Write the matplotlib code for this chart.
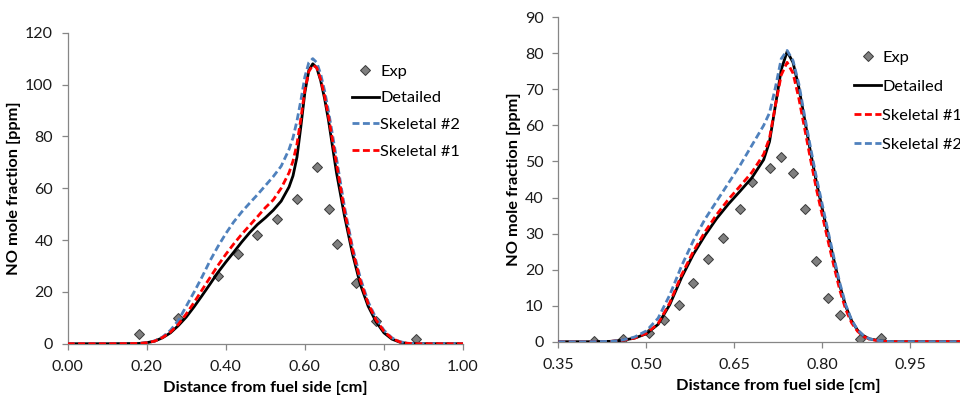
import matplotlib
matplotlib.use('Agg')
import matplotlib.pyplot as plt
import numpy as np

plt.rcParams['font.family'] = ['Lato', 'DejaVu Sans']

# ---------------- left panel data ----------------
exp_x_a = [0.18, 0.28, 0.38, 0.43, 0.48, 0.53, 0.58, 0.63, 0.66, 0.68, 0.73, 0.78, 0.88]
exp_y_a = [3.9, 9.8, 26.1, 34.6, 41.9, 48.2, 55.7, 68.3, 51.8, 38.3, 23.4, 8.9, 1.8]

x_a = [0.00, 0.10, 0.18, 0.20, 0.22, 0.24, 0.26, 0.28, 0.30, 0.32, 0.34, 0.36, 0.38,
       0.40, 0.42, 0.44, 0.46, 0.48, 0.50, 0.52, 0.54, 0.56, 0.57, 0.58, 0.59, 0.60,
       0.61, 0.62, 0.63, 0.64, 0.65, 0.66, 0.68, 0.70, 0.72, 0.74, 0.76, 0.78, 0.80,
       0.82, 0.84, 0.86, 0.88, 0.90, 1.00]
detailed_a = [0, 0, 0.1, 0.4, 1.0, 2.3, 4.2, 7.0, 10.3, 14.3, 18.6, 23.0, 27.5,
              31.5, 35.3, 39.2, 42.8, 46.0, 48.6, 51.5, 55.0, 60.5, 64.8, 72.0, 84.0, 97.0,
              105.5, 108.0, 106.5, 101.5, 94.5, 86.0, 66.0, 49.5, 35.0, 23.0, 14.5, 8.5, 4.2,
              1.8, 0.6, 0.1, 0, 0, 0]
skel1_a = [0, 0, 0.1, 0.4, 1.0, 2.4, 4.5, 7.5, 11.5, 16.0, 20.8, 25.5, 30.2,
           34.5, 38.5, 42.2, 45.6, 49.0, 52.5, 55.5, 60.0, 66.0, 70.5, 77.0, 87.0, 98.0,
           105.0, 107.5, 106.5, 102.0, 95.5, 87.5, 69.5, 51.5, 36.5, 24.5, 15.5, 9.2, 4.8,
           2.1, 0.7, 0.15, 0, 0, 0]
skel2_a = [0, 0, 0.1, 0.4, 1.1, 2.6, 5.2, 9.0, 14.5, 20.0, 25.8, 32.0, 37.5,
           42.5, 47.0, 50.8, 54.2, 57.5, 61.0, 64.5, 68.5, 75.0, 79.5, 86.0, 94.0, 103.0,
           108.5, 110.0, 108.5, 104.0, 97.5, 89.5, 71.5, 53.0, 37.5, 25.5, 16.2, 9.8, 5.2,
           2.3, 0.8, 0.2, 0, 0, 0]

# ---------------- right panel data ----------------
exp_x_b = [0.41, 0.46, 0.505, 0.53, 0.555, 0.58, 0.605, 0.63, 0.66, 0.68, 0.71, 0.73,
           0.75, 0.77, 0.79, 0.81, 0.83, 0.865, 0.90]
exp_y_b = [0.3, 0.7, 2.5, 6.0, 10.1, 16.3, 23.0, 28.8, 36.9, 44.2, 48.2, 51.2,
           46.8, 36.7, 22.3, 12.0, 7.3, 0.8, 1.0]

x_b = [0.35, 0.40, 0.44, 0.46, 0.48, 0.50, 0.52, 0.54, 0.56, 0.58, 0.60, 0.62, 0.64,
       0.66, 0.68, 0.70, 0.71, 0.72, 0.73, 0.74, 0.75, 0.76, 0.77, 0.78, 0.79, 0.80,
       0.81, 0.82, 0.83, 0.84, 0.85, 0.86, 0.87, 0.88, 0.90, 0.92, 1.10]
detailed_b = [0, 0, 0.1, 0.4, 1.0, 2.2, 4.8, 10.3, 17.8, 24.2, 29.5, 34.2, 38.2,
              41.8, 45.5, 50.5, 55.5, 65.5, 75.5, 80.5, 77.5, 70.5, 61.5, 52.5, 44.2, 36.8,
              29.5, 22.5, 15.5, 9.8, 5.8, 3.2, 1.7, 0.8, 0.2, 0, 0]
skel1_b = [0, 0, 0.1, 0.4, 1.0, 2.3, 5.0, 10.8, 18.5, 25.0, 30.5, 35.3, 39.5,
           43.2, 47.0, 52.0, 56.5, 65.5, 74.0, 77.5, 74.5, 67.5, 59.0, 50.5, 42.3, 35.0,
           27.8, 20.8, 14.2, 8.9, 5.2, 2.9, 1.5, 0.7, 0.15, 0, 0]
skel2_b = [0, 0, 0.1, 0.5, 1.3, 3.0, 6.5, 13.0, 21.0, 28.0, 34.0, 39.0, 44.0,
           49.0, 54.5, 60.0, 63.5, 70.5, 78.5, 80.8, 78.0, 71.5, 62.5, 53.8, 45.5, 38.0,
           30.5, 23.2, 16.2, 10.2, 6.0, 3.3, 1.7, 0.8, 0.2, 0, 0]

###################################
fig = plt.figure(figsize=(9.6, 3.96), dpi=100)
tick_fs = 11.5
label_fs = 11.8
legend_fs = 11.8
lw = 2.0
dash = (2.5, 1.25)
blue = '#4F81BD'
red = '#FF0000'
###################################


def style_axes(ax):
    for s in ['top', 'right']:
        ax.spines[s].set_visible(False)
    for s in ['left', 'bottom']:
        ax.spines[s].set_color('#868686')
        ax.spines[s].set_linewidth(0.9)
    ax.tick_params(direction='out', length=4.5, width=0.9, color='#868686',
                   labelsize=tick_fs, labelcolor='#1a1a1a')
    ax.tick_params(axis='x', pad=7)
    ax.tick_params(axis='y', pad=6)
    ax.set_xlabel('Distance from fuel side [cm]', fontsize=label_fs, fontweight='bold', labelpad=5)
    ax.set_ylabel('NO mole fraction [ppm]', fontsize=label_fs, fontweight='bold', labelpad=3)


def exp_points(ax, x, y):
    ax.plot(x, y, linestyle='none', marker='D', markersize=5.0, markerfacecolor='#7F7F7F',
            markeredgecolor='#3a3a3a', markeredgewidth=0.7, label='Exp', zorder=2)


# left panel
ax1 = fig.add_axes([0.0705, 0.132, 0.4118, 0.7854])
exp_points(ax1, exp_x_a, exp_y_a)
ax1.plot(x_a, detailed_a, color='black', linewidth=lw, label='Detailed', zorder=3)
ax1.plot(x_a, skel2_a, color=blue, linewidth=lw, dashes=dash, label='Skeletal #2', zorder=4)
ax1.plot(x_a, skel1_a, color=red, linewidth=lw, dashes=dash, label='Skeletal #1', zorder=5)
ax1.set_xlim(0, 1.0)
ax1.set_ylim(0, 120)
ax1.set_xticks(np.arange(0, 1.01, 0.2))
ax1.set_xticklabels(['%.2f' % v for v in np.arange(0, 1.01, 0.2)])
ax1.set_yticks(np.arange(0, 121, 20))
style_axes(ax1)
ax1.legend(loc='upper left', bbox_to_anchor=(0.367, 0.838), bbox_transform=fig.transFigure,
           frameon=False, fontsize=legend_fs, handlelength=1.6, handletextpad=0.1,
           labelspacing=0.75, borderpad=0, borderaxespad=0, numpoints=1)

# right panel (runs past the right edge of the figure, as in the original)
ax2 = fig.add_axes([0.5816, 0.1371, 0.4583, 0.8192])
exp_points(ax2, exp_x_b, exp_y_b)
ax2.plot(x_b, detailed_b, color='black', linewidth=lw, label='Detailed', zorder=3)
ax2.plot(x_b, skel1_b, color=red, linewidth=lw, dashes=dash, label='Skeletal #1', zorder=4)
ax2.plot(x_b, skel2_b, color=blue, linewidth=lw, dashes=dash, label='Skeletal #2', zorder=5)
ax2.set_xlim(0.35, 1.10)
ax2.set_ylim(0, 90)
xt = [0.35, 0.50, 0.65, 0.80, 0.95, 1.10]
ax2.set_xticks(xt)
ax2.set_xticklabels(['%.2f' % v for v in xt[:-1]] + [''])
ax2.set_yticks(np.arange(0, 91, 10))
style_axes(ax2)
ax2.legend(loc='upper left', bbox_to_anchor=(0.890, 0.872), bbox_transform=fig.transFigure,
           frameon=False, fontsize=legend_fs, handlelength=1.6, handletextpad=0.1,
           labelspacing=0.88, borderpad=0, borderaxespad=0, numpoints=1)

plt.savefig('out.png', dpi=100)
